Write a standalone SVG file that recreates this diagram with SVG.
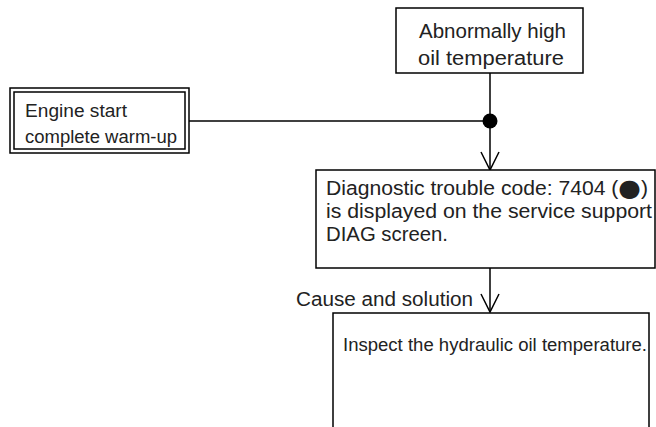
<svg xmlns="http://www.w3.org/2000/svg" width="656" height="427" viewBox="0 0 656 427">
<defs>
<style>
.box{fill:#fff;stroke:#000;stroke-width:1.5}
.t{font-family:"Liberation Sans",Arial,sans-serif;font-size:19.5px;fill:#222}
.ts{font-family:"Liberation Sans",Arial,sans-serif;font-size:17.5px;fill:#222}
.ln{fill:none;stroke:#000;stroke-width:1.5}
</style>
</defs>
<rect width="656" height="427" fill="#fff"/>
<g id="connectors">
<path class="ln" d="M490 73 V169"/>
<path class="ln" d="M189 121 H490"/>
<circle cx="490" cy="121" r="7.5" fill="#000"/>
<path class="ln" d="M481 152 L490 170 L499 152"/>
<path class="ln" d="M490 268 V311"/>
<path class="ln" d="M481 294 L490 312 L499 294"/>
</g>
<g id="node-high-temp">
<rect class="box" x="396" y="8" width="187" height="65"/>
<text class="t" x="419" y="38" textLength="147" lengthAdjust="spacingAndGlyphs">Abnormally high</text>
<text class="t" x="418" y="65" textLength="146" lengthAdjust="spacingAndGlyphs">oil temperature</text>
</g>
<g id="node-engine-start">
<rect class="box" x="10" y="88" width="179" height="65"/>
<rect class="box" x="14" y="92" width="171" height="57"/>
<text class="ts" x="25" y="117" textLength="102" lengthAdjust="spacingAndGlyphs">Engine start</text>
<text class="ts" x="25" y="143" textLength="152" lengthAdjust="spacingAndGlyphs">complete warm-up</text>
</g>
<g id="node-dtc">
<rect class="box" x="316" y="170" width="339" height="98"/>
<text class="t" x="326" y="195" textLength="322" lengthAdjust="spacingAndGlyphs">Diagnostic trouble code: 7404 (<tspan font-size="24" font-family="DejaVu Sans, sans-serif" dy="1">●</tspan><tspan dy="-1">)</tspan></text>
<text class="t" x="326" y="218" textLength="326" lengthAdjust="spacingAndGlyphs">is displayed on the service support</text>
<text class="t" x="326" y="241" textLength="122" lengthAdjust="spacingAndGlyphs">DIAG screen.</text>
</g>
<g id="label-cause">
<text class="t" x="296" y="306" textLength="177" lengthAdjust="spacingAndGlyphs">Cause and solution</text>
</g>
<g id="node-inspect">
<path class="box" d="M333 428 V313 H649 V428"/>
<text class="ts" x="343" y="351" textLength="304" lengthAdjust="spacingAndGlyphs">Inspect the hydraulic oil temperature.</text>
</g>
</svg>
